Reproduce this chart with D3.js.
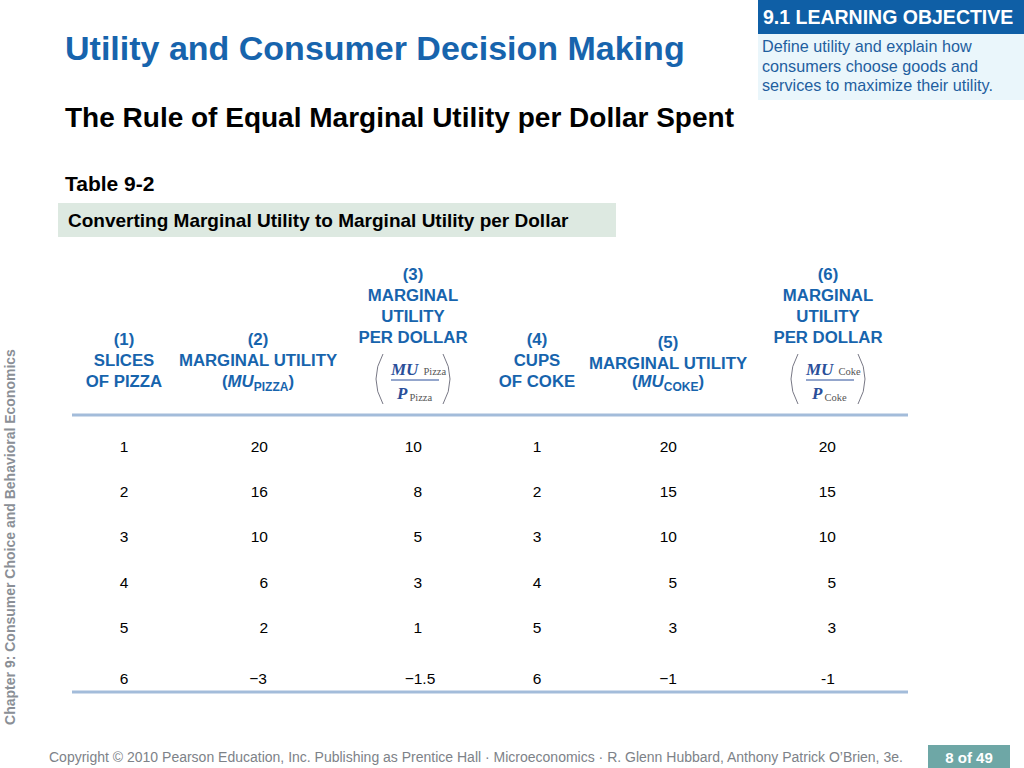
<!DOCTYPE html>
<html><head><meta charset="utf-8">
<script src="https://cdn.jsdelivr.net/npm/d3@7"></script>
<style>body{margin:0;background:#fff}svg{display:block;font-family:"Liberation Sans",Arial,sans-serif}</style>
</head><body><svg id="c" width="1024" height="768"></svg>
<script>
const rowLabels = ["1", "2", "3", "4", "5", "6"];
const muPizza = ["20", "16", "10", "6", "2", "\u22123"];
const muPerDollarPizza = ["10", "8", "5", "3", "1", "\u22121.5"];
const cupsCoke = ["1", "2", "3", "4", "5", "6"];
const muCoke = ["20", "15", "10", "5", "3", "\u22121"];
const muPerDollarCoke = ["20", "15", "10", "5", "3", "-1"];

const svg = d3.select("#c");
const blue = "#1764ad";

// header boxes
svg.append("rect").attr("x", 758).attr("y", 0).attr("width", 266).attr("height", 34).attr("fill", "#0f5fa6");
svg.append("rect").attr("x", 758).attr("y", 34).attr("width", 266).attr("height", 66).attr("fill", "#eaf6fb");
svg.append("text").attr("x", 763).attr("y", 24).attr("fill", "#fff").attr("font-size", 19.5).attr("font-weight", "bold").text("9.1 LEARNING OBJECTIVE");
["Define utility and explain how", "consumers choose goods and", "services to maximize their utility."].forEach((t, i) =>
  svg.append("text").attr("x", 762).attr("y", 52 + i * 19.5).attr("fill", "#1f5f9f").attr("font-size", 16.2).text(t));

svg.append("text").attr("x", 65).attr("y", 60).attr("fill", blue).attr("font-size", 34).attr("font-weight", "bold").text("Utility and Consumer Decision Making");
svg.append("text").attr("x", 65).attr("y", 127).attr("fill", "#000").attr("font-size", 28).attr("font-weight", "bold").text("The Rule of Equal Marginal Utility per Dollar Spent");
svg.append("text").attr("x", 65).attr("y", 191).attr("font-size", 21).attr("font-weight", "bold").text("Table 9-2");
svg.append("rect").attr("x", 58).attr("y", 203).attr("width", 558).attr("height", 34).attr("fill", "#dde9e1");
svg.append("text").attr("x", 68).attr("y", 227).attr("font-size", 19).attr("font-weight", "bold").text("Converting Marginal Utility to Marginal Utility per Dollar");

// side text
svg.append("text").attr("transform", "translate(15,537) rotate(-90)").attr("text-anchor", "middle")
  .attr("fill", "#8a8f96").attr("font-size", 14).attr("font-weight", "bold").text("Chapter 9: Consumer Choice and Behavioral Economics");

// column positions
const cols = ["c1", "c2", "c3", "c4", "c5", "c6"];
const x = d3.scaleOrdinal().domain(cols).range([124, 258, 413, 537, 668, 828]);
const rowY = d3.scaleOrdinal().domain(rowLabels).range([447, 492, 537, 583, 628, 679]);

const hdr = svg.append("g").attr("fill", blue).attr("font-size", 16.8).attr("font-weight", "bold").attr("text-anchor", "middle");
function lines(cx, y0, arr) { arr.forEach((t, i) => hdr.append("text").attr("x", cx).attr("y", y0 + i * 21).text(t)); }
lines(x("c1"), 345, ["(1)", "SLICES", "OF PIZZA"]);
lines(x("c2"), 345, ["(2)", "MARGINAL UTILITY"]);
lines(x("c3"), 280, ["(3)", "MARGINAL", "UTILITY", "PER DOLLAR"]);
lines(x("c4"), 345, ["(4)", "CUPS", "OF COKE"]);
lines(x("c5"), 348, ["(5)", "MARGINAL UTILITY"]);
lines(x("c6"), 280, ["(6)", "MARGINAL", "UTILITY", "PER DOLLAR"]);
function muSub(cx, yy, sub) {
  const t = hdr.append("text").attr("x", cx).attr("y", yy);
  t.append("tspan").text("(");
  t.append("tspan").attr("font-style", "italic").text("MU");
  t.append("tspan").attr("font-size", 12).attr("dy", 4).text(sub);
  t.append("tspan").attr("dy", -4).text(")");
}
muSub(x("c2"), 387, "PIZZA");
muSub(x("c5"), 387, "COKE");
function frac(cx, sub) {
  const g = svg.append("g").attr("fill", "#2a4f9a").attr("font-family", "Liberation Serif,Times New Roman,serif");
  g.append("path").attr("d", `M${cx - 30},354 Q${cx - 44},379 ${cx - 30},404`).attr("fill", "none").attr("stroke", "#556").attr("stroke-width", 0.8);
  g.append("path").attr("d", `M${cx + 30},354 Q${cx + 44},379 ${cx + 30},404`).attr("fill", "none").attr("stroke", "#556").attr("stroke-width", 0.8);
  g.append("line").attr("x1", cx - 22).attr("x2", cx + 26).attr("y1", 380).attr("y2", 380).attr("stroke", "#2a4f9a");
  const t1 = g.append("text").attr("x", cx - 22).attr("y", 375);
  t1.append("tspan").attr("font-size", 17).attr("font-weight", "bold").attr("font-style", "italic").text("MU");
  t1.append("tspan").attr("font-size", 10.5).attr("dx", 5).attr("dy", 0).attr("fill", "#555").text(sub);
  const t2 = g.append("text").attr("x", cx - 16).attr("y", 399);
  t2.append("tspan").attr("font-size", 17).attr("font-weight", "bold").attr("font-style", "italic").text("P");
  t2.append("tspan").attr("font-size", 10.5).attr("dx", 2).attr("dy", 2).attr("fill", "#555").text(sub);
}
frac(x("c3"), "Pizza");
frac(x("c6"), "Coke");

// rules
[415, 692].forEach(v => svg.append("line").attr("x1", 72).attr("x2", 908).attr("y1", v).attr("y2", v).attr("stroke", "#a3bcda").attr("stroke-width", 3));

// body
const data = [
  { c: "c1", v: rowLabels, a: "middle", dx: 0 },
  { c: "c2", v: muPizza, a: "end", dx: 10 },
  { c: "c3", v: muPerDollarPizza, a: "end", dx: 9 },
  { c: "c4", v: cupsCoke, a: "middle", dx: 0 },
  { c: "c5", v: muCoke, a: "end", dx: 9 },
  { c: "c6", v: muPerDollarCoke, a: "end", dx: 8 }
];
const body = svg.append("g").attr("font-size", 15.5);
data.forEach(col => col.v.forEach((val, i) => {
  const neg = /^[\u2212-]/.test(val);
  body.append("text").attr("x", x(col.c) + (neg ? 0 : col.dx) + (neg && col.c === "c3" ? 7 : 0))
    .attr("y", rowY(rowLabels[i]) + 5).attr("text-anchor", neg ? "middle" : col.a).text(val);
}));

// footer
svg.append("text").attr("x", 49).attr("y", 762).attr("fill", "#7d8288").attr("font-size", 14)
  .text("Copyright \u00a9 2010 Pearson Education, Inc. Publishing as Prentice Hall \u00b7 Microeconomics \u00b7 R. Glenn Hubbard, Anthony Patrick O\u2019Brien, 3e.");
svg.append("rect").attr("x", 928).attr("y", 745).attr("width", 82).attr("height", 23).attr("fill", "#6ea7a6");
svg.append("text").attr("x", 969).attr("y", 763).attr("text-anchor", "middle").attr("fill", "#fff").attr("font-size", 15).attr("font-weight", "bold").text("8 of 49");
</script></body></html>
